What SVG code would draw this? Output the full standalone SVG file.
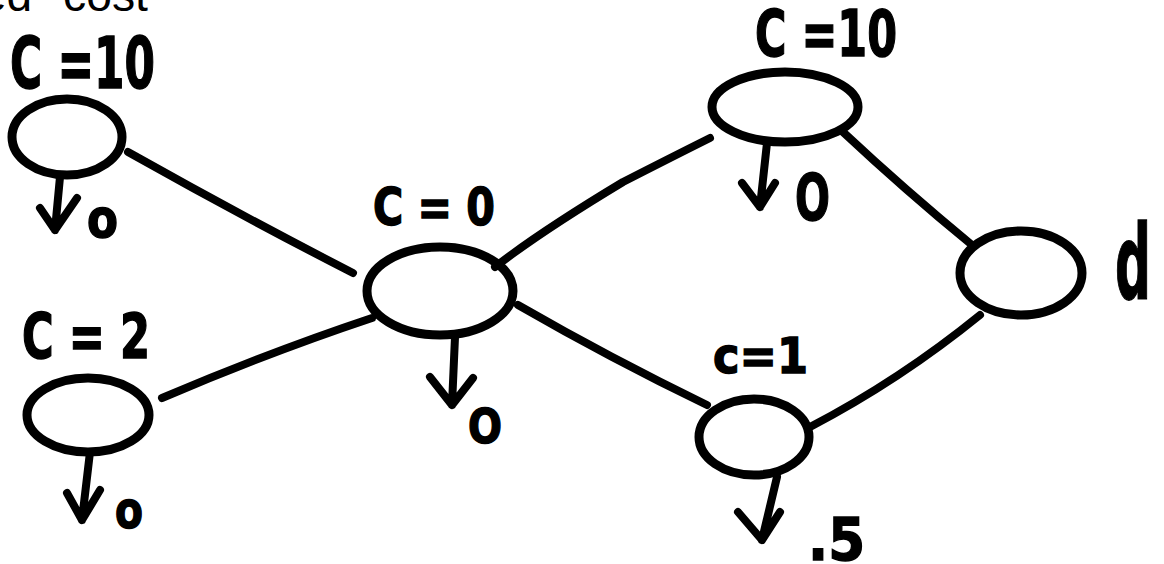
<svg xmlns="http://www.w3.org/2000/svg" width="1164" height="564" viewBox="0 0 1164 564">
<style>
.node{fill:none;stroke:#000;stroke-width:9}
.edge{fill:none;stroke:#000;stroke-width:8;stroke-linecap:round}
.arr{fill:none;stroke:#000;stroke-width:8;stroke-linecap:round;stroke-linejoin:round}
.lbl{font-family:"DejaVu Sans",sans-serif;font-weight:bold;fill:#000;stroke:#000;stroke-width:1.5}
.cap{font-family:"Liberation Sans",sans-serif;fill:#000}
</style>
<rect width="1164" height="564" fill="#fff"/>
<text class="cap" x="-19" y="11" font-size="46">ed</text>
<text class="cap" x="63" y="11" font-size="46" textLength="85" lengthAdjust="spacingAndGlyphs">cost</text>
<g id="connectors">
<path class="edge" d="M128,152 Q240,215 353,273"/>
<path class="edge" d="M162,398 Q270,352 372,318"/>
<path class="edge" d="M495,267 Q540,232 623,182 Q670,158 710,138"/>
<path class="edge" d="M518,305 Q610,358 707,405"/>
<path class="edge" d="M843,132 Q905,190 972,245"/>
<path class="edge" d="M810,427 Q900,380 980,315"/>
</g>
<g id="node-tl">
<ellipse class="node" cx="67" cy="137" rx="55" ry="38"/>
<text class="lbl" x="10" y="88" font-size="72" textLength="145" lengthAdjust="spacingAndGlyphs">C =10</text>
<path class="arr" d="M60,177 L55,230 M40,208 L55,230 L77,198"/>
<text class="lbl" x="87" y="237" font-size="53" textLength="31" lengthAdjust="spacingAndGlyphs">o</text>
</g>
<g id="node-bl">
<ellipse class="node" cx="88" cy="415" rx="61" ry="37"/>
<text class="lbl" x="22" y="358" font-size="62" textLength="128" lengthAdjust="spacingAndGlyphs">C = 2</text>
<path class="arr" d="M90,452 L82,520 M67,493 L82,520 L100,490"/>
<text class="lbl" x="115" y="528" font-size="51" textLength="28" lengthAdjust="spacingAndGlyphs">o</text>
</g>
<g id="node-center">
<ellipse class="node" cx="440" cy="291" rx="73" ry="44"/>
<text class="lbl" x="373" y="225" font-size="52" textLength="122" lengthAdjust="spacingAndGlyphs">C = 0</text>
<path class="arr" d="M455,337 L452,405 M430,377 L452,405 L473,378"/>
<text class="lbl" x="468" y="443" font-size="48" textLength="34" lengthAdjust="spacingAndGlyphs">O</text>
</g>
<g id="node-tr">
<ellipse class="node" cx="785" cy="107" rx="73" ry="35"/>
<text class="lbl" x="755" y="56" font-size="64" textLength="142" lengthAdjust="spacingAndGlyphs">C =10</text>
<path class="arr" d="M767,143 L760,207 M742,183 L760,207 L775,183"/>
<text class="lbl" x="795" y="220" font-size="64" textLength="35" lengthAdjust="spacingAndGlyphs">O</text>
</g>
<g id="node-d">
<ellipse class="node" cx="1021" cy="273" rx="61" ry="42"/>
<text class="lbl" x="1115" y="299" font-size="104" textLength="36" lengthAdjust="spacingAndGlyphs">d</text>
</g>
<g id="node-br">
<ellipse class="node" cx="754" cy="437" rx="55" ry="38"/>
<text class="lbl" x="713" y="373" font-size="50" textLength="95" lengthAdjust="spacingAndGlyphs">c=1</text>
<path class="arr" d="M777,477 L762,540 M738,512 L762,540 L780,512"/>
<text class="lbl" x="808" y="560" font-size="59" textLength="57" lengthAdjust="spacingAndGlyphs">.5</text>
</g>
</svg>
